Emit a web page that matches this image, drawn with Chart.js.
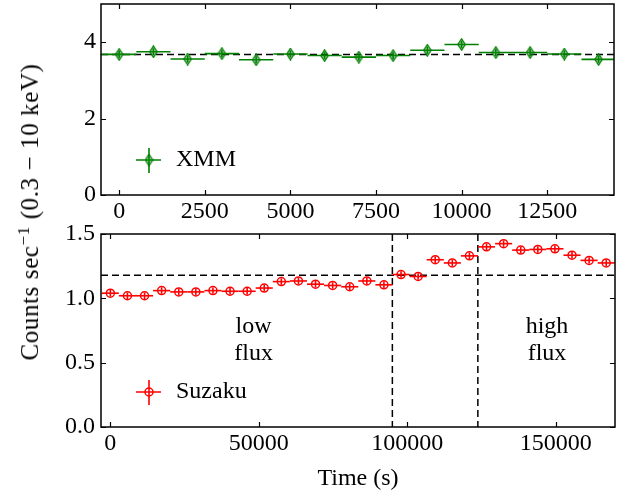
<!DOCTYPE html>
<html>
<head>
<meta charset="utf-8">
<script src="https://cdn.jsdelivr.net/npm/chart.js@4"></script>
<style>
  body { margin: 0; background: #fff; width: 622px; height: 498px; position: relative; overflow: hidden; font-family: 'Liberation Serif', serif; }
  #topChart { position: absolute; left: 0; top: 0; }
  #bottomChart { position: absolute; left: 0; top: 210px; }
  #ylab { position: absolute; left: 30px; top: 212px; transform: translate(-50%, -50%) rotate(-90deg); white-space: nowrap; font-family: 'Liberation Serif', serif; font-size: 25px; letter-spacing: 0.6px; color: #000; }
  #ylab sup { font-size: 17px; vertical-align: 9px; line-height: 0; }
</style>
</head>
<body>
<canvas id="topChart" width="622" height="230"></canvas>
<canvas id="bottomChart" width="622" height="288"></canvas>
<div id="ylab">Counts sec<sup>&minus;1</sup> (0.3 &minus; 10 keV)</div>
<script>
// XMM light curve (top panel)
const xmmTime = [0, 1000, 2000, 3000, 4000, 5000, 6000, 7000, 8000, 9000, 10000, 11000, 12000, 13000, 14000];
const xmmRate = [3.68, 3.75, 3.56, 3.70, 3.54, 3.69, 3.65, 3.61, 3.65, 3.79, 3.94, 3.73, 3.73, 3.69, 3.55];
const xmmRateErr = [0.09, 0.09, 0.09, 0.09, 0.09, 0.09, 0.09, 0.09, 0.09, 0.09, 0.09, 0.09, 0.09, 0.09, 0.09];
const xmmHalfBin = 500;
const xmmMean = 3.68;
const xmmXTicks = [0, 2500, 5000, 7500, 10000, 12500];
const xmmYTicks = [0, 2, 4];

// Suzaku light curve (bottom panel)
const suzakuTime = [0, 5760, 11520, 17280, 23040, 28800, 34560, 40320, 46080, 51840,
  57600, 63360, 69120, 74880, 80640, 86400, 92160, 97920, 103680, 109440,
  115200, 120960, 126720, 132480, 138240, 144000, 149760, 155520, 161280, 167040];
const suzakuRate = [1.04, 1.02, 1.02, 1.06, 1.05, 1.05, 1.06, 1.055, 1.055, 1.08,
  1.13, 1.135, 1.11, 1.10, 1.09, 1.135, 1.105, 1.185, 1.17, 1.30,
  1.275, 1.33, 1.40, 1.425, 1.375, 1.38, 1.385, 1.335, 1.295, 1.275];
const suzakuRateErr = [0.025, 0.025, 0.025, 0.025, 0.025, 0.025, 0.025, 0.025, 0.025, 0.025,
  0.025, 0.025, 0.025, 0.025, 0.025, 0.025, 0.025, 0.025, 0.025, 0.025,
  0.025, 0.025, 0.025, 0.025, 0.025, 0.025, 0.025, 0.025, 0.025, 0.025];
const suzakuHalfBin = 2880;
const suzakuMean = 1.18;
const fluxCuts = [95000, 123800];
const suzakuXTicks = [0, 50000, 100000, 150000];
const suzakuYTicks = [0, 0.5, 1.0, 1.5];

const FONT = "'Liberation Serif', serif";
const GREEN = '#008000';
const RED = '#ff0000';

// thin diamond marker like matplotlib 'd'
function makeDiamond(w, h) {
  const c = document.createElement('canvas');
  c.width = w; c.height = h;
  const g = c.getContext('2d');
  g.beginPath();
  g.moveTo(w / 2, 0.8);
  g.lineTo(w - 0.8, h / 2);
  g.lineTo(w / 2, h - 0.8);
  g.lineTo(0.8, h / 2);
  g.closePath();
  g.fillStyle = 'rgba(0,128,0,0.35)';
  g.fill();
  g.strokeStyle = GREEN;
  g.lineWidth = 1.3;
  g.stroke();
  return c;
}
const diamond = makeDiamond(9, 13);

// frame, inward ticks, error bars, reference lines, legend, labels
const decor = {
  id: 'decor',
  beforeDatasetsDraw(chart, args, o) {
    const { ctx, chartArea: a, scales: { x, y } } = chart;
    ctx.save();
    ctx.beginPath();
    ctx.rect(a.left, a.top, a.right - a.left, a.bottom - a.top);
    ctx.clip();
    // dashed reference lines
    ctx.strokeStyle = '#000';
    ctx.lineWidth = 1.5;
    ctx.setLineDash([7, 4]);
    (o.hLines || []).forEach(v => {
      const py = y.getPixelForValue(v);
      ctx.beginPath(); ctx.moveTo(a.left, py); ctx.lineTo(a.right, py); ctx.stroke();
    });
    (o.vLines || []).forEach(v => {
      const px = x.getPixelForValue(v);
      ctx.beginPath(); ctx.moveTo(px, a.top); ctx.lineTo(px, a.bottom); ctx.stroke();
    });
    ctx.setLineDash([]);
    // error bars
    const e = o.err;
    ctx.strokeStyle = e.color;
    ctx.lineWidth = 1.6;
    e.xs.forEach((t, i) => {
      const v = e.ys[i];
      const x0 = x.getPixelForValue(t - e.half), x1 = x.getPixelForValue(t + e.half);
      const py = y.getPixelForValue(v);
      const y0 = y.getPixelForValue(v - e.yerr[i]), y1 = y.getPixelForValue(v + e.yerr[i]);
      const px = x.getPixelForValue(t);
      ctx.beginPath(); ctx.moveTo(x0, py); ctx.lineTo(x1, py); ctx.stroke();
      ctx.beginPath(); ctx.moveTo(px, y0); ctx.lineTo(px, y1); ctx.stroke();
    });
    ctx.restore();
  },
  afterDraw(chart, args, o) {
    const { ctx, chartArea: a, scales: { x, y } } = chart;
    ctx.save();
    ctx.strokeStyle = '#000';
    ctx.lineWidth = 1.2;
    const tl = 5;
    x.ticks.forEach(t => {
      const px = Math.round(x.getPixelForValue(t.value)) + 0.5;
      ctx.beginPath();
      ctx.moveTo(px, a.bottom); ctx.lineTo(px, a.bottom - tl);
      ctx.moveTo(px, a.top); ctx.lineTo(px, a.top + tl);
      ctx.stroke();
    });
    y.ticks.forEach(t => {
      const py = Math.round(y.getPixelForValue(t.value)) + 0.5;
      ctx.beginPath();
      ctx.moveTo(a.left, py); ctx.lineTo(a.left + tl, py);
      ctx.moveTo(a.right, py); ctx.lineTo(a.right - tl, py);
      ctx.stroke();
    });
    ctx.lineWidth = 1.5;
    ctx.strokeRect(a.left, a.top, a.right - a.left, a.bottom - a.top);

    // text annotations
    ctx.fillStyle = '#000';
    ctx.font = '24px ' + FONT;
    ctx.textAlign = 'center';
    ctx.textBaseline = 'middle';
    (o.texts || []).forEach(tx => {
      ctx.fillText(tx.text, x.getPixelForValue(tx.x), y.getPixelForValue(tx.y));
    });

    // legend
    const lg = o.legend;
    const cx = a.left + 48, cy = a.bottom - lg.dy;
    ctx.strokeStyle = lg.color;
    ctx.lineWidth = 1.6;
    ctx.beginPath();
    ctx.moveTo(cx - 13, cy); ctx.lineTo(cx + 12, cy);
    ctx.moveTo(cx, cy - 12); ctx.lineTo(cx, cy + 13);
    ctx.stroke();
    if (lg.marker === 'diamond') {
      ctx.drawImage(diamond, cx - 4.5, cy - 6.5);
    } else {
      ctx.lineWidth = 1.5;
      ctx.beginPath(); ctx.arc(cx, cy, 4, 0, Math.PI * 2); ctx.stroke();
    }
    ctx.fillStyle = '#000';
    ctx.textAlign = 'left';
    ctx.fillText(lg.label, cx + 27, cy);
    ctx.restore();
  }
};

function tickAxis(min, max, ticks, extra, fmt) {
  const size = extra.size;
  return Object.assign({
    type: 'linear',
    min, max,
    grid: { display: false, drawTicks: false },
    border: { display: false },
    afterBuildTicks: s => { s.ticks = ticks.map(v => ({ value: v })); },
    afterFit: s => {
      if (s.isHorizontal()) s.height = size; else s.width = size;
      s.paddingTop = 0; s.paddingBottom = 0; s.paddingLeft = 0; s.paddingRight = 0;
    },
    ticks: {
      color: '#000', font: { family: FONT, size: 24, lineHeight: 1.2 }, maxRotation: 0, autoSkip: false,
      padding: extra.tickPad, callback: fmt || (v => String(v))
    }
  }, extra.title ? { title: extra.title } : {});
}

Chart.defaults.font.family = FONT;

new Chart(document.getElementById('topChart'), {
  type: 'scatter',
  data: {
    datasets: [{
      label: 'XMM',
      data: xmmTime.map((t, i) => ({ x: t, y: xmmRate[i] })),
      pointStyle: diamond,
      borderColor: GREEN,
      backgroundColor: GREEN
    }]
  },
  options: {
    responsive: false,
    animation: false,
    devicePixelRatio: 1,
    layout: { padding: { left: 0, right: 8, top: 4, bottom: 0 }, autoPadding: false },
    plugins: {
      legend: { display: false },
      tooltip: { enabled: false },
      decor: {
        hLines: [xmmMean],
        err: { xs: xmmTime, ys: xmmRate, yerr: xmmRateErr, half: xmmHalfBin, color: GREEN },
        legend: { label: 'XMM', color: GREEN, marker: 'diamond', dy: 35 }
      }
    },
    scales: {
      x: tickAxis(-530, 14450, xmmXTicks, { tickPad: 2, size: 35 }),
      y: tickAxis(0, 5, xmmYTicks, { tickPad: 5, size: 101 })
    }
  },
  plugins: [decor]
});

new Chart(document.getElementById('bottomChart'), {
  type: 'scatter',
  data: {
    datasets: [{
      label: 'Suzaku',
      data: suzakuTime.map((t, i) => ({ x: t, y: suzakuRate[i] })),
      pointStyle: 'circle',
      pointRadius: 4,
      borderWidth: 1.5,
      borderColor: RED,
      backgroundColor: 'rgba(255,0,0,0)'
    }]
  },
  options: {
    responsive: false,
    animation: false,
    devicePixelRatio: 1,
    layout: { padding: { left: 0, right: 7, top: 24, bottom: 0 }, autoPadding: false },
    plugins: {
      legend: { display: false },
      tooltip: { enabled: false },
      decor: {
        hLines: [suzakuMean],
        vLines: fluxCuts,
        err: { xs: suzakuTime, ys: suzakuRate, yerr: suzakuRateErr, half: suzakuHalfBin, color: RED },
        texts: [
          { text: 'low', x: 48250, y: 0.78 },
          { text: 'flux', x: 48250, y: 0.57 },
          { text: 'high', x: 147100, y: 0.78 },
          { text: 'flux', x: 147100, y: 0.57 }
        ],
        legend: { label: 'Suzaku', color: RED, marker: 'circle', dy: 35 }
      }
    },
    scales: {
      x: tickAxis(-3150, 170000, suzakuXTicks, {
        tickPad: 2, size: 71,
        title: { display: true, text: 'Time (s)', color: '#000', font: { family: FONT, size: 24, lineHeight: 1.2 }, padding: { top: 0, bottom: 5 } }
      }),
      y: tickAxis(0, 1.5, suzakuYTicks, { tickPad: 6, size: 101 }, v => v.toFixed(1))
    }
  },
  plugins: [decor]
});
</script>
</body>
</html>
